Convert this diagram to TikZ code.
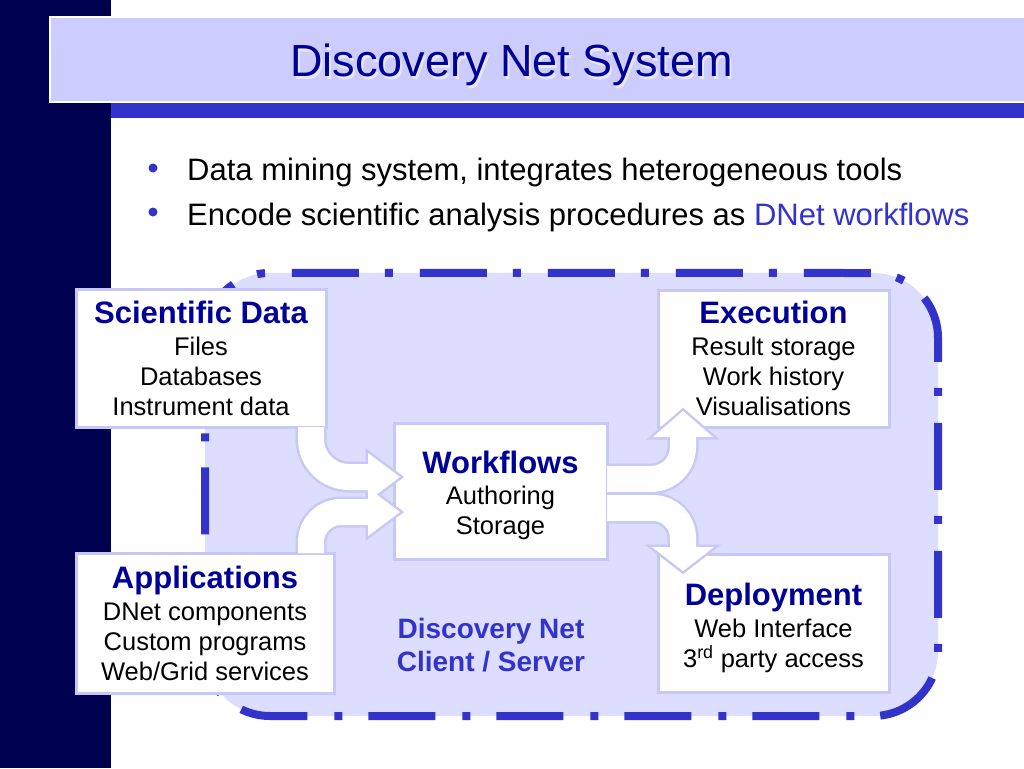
\documentclass[tikz,border=0pt]{standalone}
\usepackage{fontspec}
\setmainfont{Liberation Sans}
\usetikzlibrary{calc}
\definecolor{navybar}{RGB}{0,0,80}
\definecolor{titlefill}{RGB}{204,204,255}
\definecolor{stripblue}{RGB}{51,51,204}
\definecolor{headblue}{RGB}{0,0,153}
\definecolor{titleshade}{RGB}{232,232,242}
\definecolor{regionfill}{RGB}{221,221,255}
\definecolor{boxline}{RGB}{200,200,248}
\definecolor{arrline}{RGB}{200,200,245}
\newcommand\boxhead[2][0pt]{{\fontsize{31}{31}\selectfont\bfseries\color{headblue}\rule{0pt}{\dimexpr22.6pt+#1\relax}#2}}
\begin{document}
\begin{tikzpicture}[x=1pt,y=-1pt,
  box/.style={draw=boxline, line width=3pt, fill=white, inner sep=0pt, outer sep=0pt,
              align=center, font=\fontsize{25.5}{30}\selectfont},
  shaftout/.style={draw=arrline, line width=31pt},
  shaftin/.style={draw=white, line width=26pt},
  headout/.style={fill=arrline, draw=arrline, line width=5pt, line join=miter},
  headin/.style={fill=white},
  bulletdot/.style={circle, fill=stripblue, minimum size=9pt, inner sep=0pt},
  bullettext/.style={anchor=base west, inner sep=0pt, font=\fontsize{31}{37}\selectfont},
  regionpath/.style={rounded corners=0pt}]
\useasboundingbox (0,0) rectangle (1024,768);
\fill[white] (0,0) rectangle (1024,768);
% side bar, title band
\fill[navybar] (0,0) rectangle (111,768);
\fill[stripblue] (111,103) rectangle (1024,118);
\draw[fill=titlefill, draw=white, line width=2.5pt] (50,17) rectangle (1030,102);
\node[anchor=base, inner sep=0pt, text=titleshade, font=\fontsize{45}{54}\selectfont] (titleshadow) at (513.5,79) {Discovery Net System};
\node[anchor=base, inner sep=0pt, text=headblue, font=\fontsize{45}{54}\selectfont] (title) at (511.5,77) {Discovery Net System};
% bullets
\node[bulletdot] (b1) at (153,168) {};
\node[bulletdot] (b2) at (153,212) {};
\node[bullettext] (t1) at (187,180) {Data mining system, integrates heterogeneous tools};
\node[bullettext] (t2) at (187,225) {Encode scientific analysis procedures as \textcolor{stripblue}{DNet workflows}};
% region
\draw[fill=regionfill, draw=stripblue, line width=8pt, dash pattern=on 67pt off 26pt on 8pt off 27pt, dash phase=55pt]
  (224.04,291.96) arc[start angle=225, end angle=270, radius=65]
  -- (873,273) arc[start angle=270, end angle=360, radius=65]
  -- (938,651) arc[start angle=0, end angle=90, radius=65]
  -- (270,716) arc[start angle=90, end angle=180, radius=65]
  -- (205,338) arc[start angle=180, end angle=225, radius=65];
% boxes
\node[box, minimum width=250pt, minimum height=138pt] (sd) at (201,358)
  {\boxhead{Scientific Data}\\[2pt] Files\\ Databases\\ Instrument data};
\node[box, minimum width=258pt, minimum height=140pt] (app) at (205,623)
  {\boxhead{Applications}\\[2pt] DNet components\\ Custom programs\\ Web/Grid services};
\node[box, minimum width=213pt, minimum height=136pt] (wf) at (500.5,491)
  {\boxhead[8pt]{Workflows}\\[1pt] Authoring\\ Storage};
\node[box, minimum width=231pt, minimum height=137pt] (ex) at (773.5,358.5)
  {\boxhead{Execution}\\[2pt] Result storage\\ Work history\\ Visualisations};
\node[box, minimum width=231pt, minimum height=138pt] (dep) at (773.5,623)
  {\boxhead[10pt]{Deployment}\\[2pt] Web Interface\\ 3\textsuperscript{rd} party access};
\node[inner sep=0pt, align=center, text=stripblue, font=\fontsize{28}{33}\selectfont\bfseries] (dnl) at (491,645.5)
  {Discovery Net\\Client / Server};
% arrow geometry
\coordinate (a1x) at (311,477); \coordinate (a1b) at (368,477); \coordinate (a1t) at (400,477);
\coordinate (a2x) at (311,512); \coordinate (a2b) at (368,512); \coordinate (a2t) at (400,512);
\coordinate (a3y) at (683,479); \coordinate (a3b) at (683,437); \coordinate (a3t) at (683,411);
\coordinate (a4y) at (683,508); \coordinate (a4b) at (683,547); \coordinate (a4t) at (683,571);
% outline layer
\draw[shaftout, rounded corners=38pt] (sd.south -| a1x) |- (a1b);
\draw[shaftout, rounded corners=30pt] (app.north -| a2x) |- (a2b);
\draw[shaftout, rounded corners=32pt] (wf.east |- a3y) -| (a3b);
\draw[shaftout, rounded corners=30pt] (wf.east |- a4y) -| (a4b);
\draw[headout] ($(a1b)+(0,-24)$) -- (a1t) -- ($(a1b)+(0,24)$) -- cycle;
\draw[headout] ($(a2b)+(0,-24)$) -- (a2t) -- ($(a2b)+(0,24)$) -- cycle;
\draw[headout] ($(a3b)+(-30,0)$) -- (a3t) -- ($(a3b)+(30,0)$) -- cycle;
\draw[headout] ($(a4b)+(-31,0)$) -- (a4t) -- ($(a4b)+(31,0)$) -- cycle;
% white layer
\draw[shaftin, rounded corners=38pt] (sd.south -| a1x) |- ($(a1b)+(4,0)$);
\draw[shaftin, rounded corners=30pt] (app.north -| a2x) |- ($(a2b)+(4,0)$);
\draw[shaftin, rounded corners=32pt] (wf.east |- a3y) -| ($(a3b)+(0,-4)$);
\draw[shaftin, rounded corners=30pt] (wf.east |- a4y) -| ($(a4b)+(0,4)$);
\fill[headin] ($(a1b)+(0,-24)$) -- (a1t) -- ($(a1b)+(0,24)$) -- cycle;
\fill[headin] ($(a2b)+(0,-24)$) -- (a2t) -- ($(a2b)+(0,24)$) -- cycle;
\fill[headin] ($(a3b)+(-30,0)$) -- (a3t) -- ($(a3b)+(30,0)$) -- cycle;
\fill[headin] ($(a4b)+(-31,0)$) -- (a4t) -- ($(a4b)+(31,0)$) -- cycle;
\end{tikzpicture}
\end{document}
